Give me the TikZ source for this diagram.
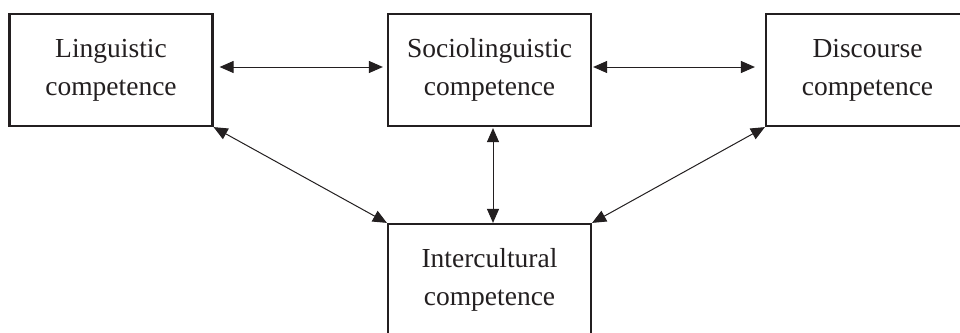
\documentclass[tikz,border=0pt]{standalone}
\usepackage{fontspec}
\setmainfont{Liberation Serif}
\usetikzlibrary{arrows.meta}
\definecolor{ink}{HTML}{231F20}
\begin{document}
\begin{tikzpicture}[x=1pt,y=-1pt,
  compbox/.style={draw=ink,line width=2.2pt,minimum width=203pt,minimum height=112pt,
    inner sep=0pt,align=center,text=ink,font=\fontsize{27.5}{38}\selectfont},
  link/.style={draw=ink,line width=1pt,{Triangle[length=14pt,width=12pt]}-{Triangle[length=14pt,width=12pt]}}]
\useasboundingbox (0,0) rectangle (960,332);
\clip (0,0) rectangle (960,332);
\fill[white] (0,0) rectangle (960,332);
\node[compbox] (ling) at (111,70) {Linguistic\\competence};
\node[compbox] (socio) at (489.5,70) {Sociolinguistic\\competence};
\node[compbox] (disc) at (867.5,70) {Discourse\\competence};
\node[compbox] (inter) at (489.5,280) {Intercultural\\competence};
\draw[link,shorten <=6pt,shorten >=4pt] ([yshift=3pt]ling.east) -- ([yshift=3pt]socio.west);
\draw[link,shorten <=1pt,shorten >=10pt] ([yshift=3pt]socio.east) -- ([yshift=3pt]disc.west);
\draw[link,shorten <=1pt,shorten >=0pt] ([xshift=3.5pt]socio.south) -- ([xshift=3.5pt]inter.north);
\draw[link] (ling.south east) -- (inter.north west);
\draw[link] (disc.south west) -- (inter.north east);
\end{tikzpicture}
\end{document}
